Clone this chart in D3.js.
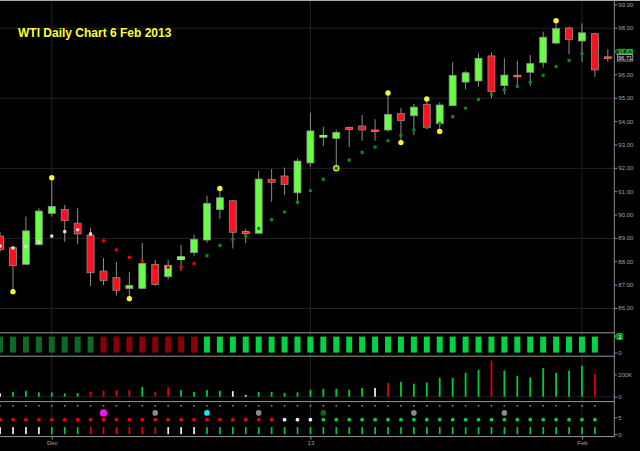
<!DOCTYPE html>
<html><head><meta charset="utf-8">
<script src="https://cdn.jsdelivr.net/npm/d3@7"></script>
<style>
html,body{margin:0;padding:0;background:#000;}
svg{display:block;}
text{font-family:"Liberation Sans",Arial,sans-serif;}
</style></head>
<body>
<svg id="c" width="640" height="451"></svg>
<script>
// ---------- DATA ----------
const title = "WTI Daily Chart 6 Feb 2013";
const opens  = [89.08,88.58,87.87,88.71,90.05,90.22,89.63,89.12,87.58,87.30,86.83,86.84,87.87,87.34,88.08,88.37,88.91,90.21,90.59,89.27,89.20,91.51,91.65,90.93,92.21,93.32,93.26,93.72,93.79,93.62,93.62,94.32,94.23,94.72,93.89,94.66,95.67,95.72,96.79,95.52,95.96,96.09,96.50,97.34,97.99,97.43,97.74,96.75];
const highs  = [89.25,88.62,89.91,90.27,91.58,90.41,90.27,89.44,88.14,87.97,87.54,88.78,88.05,88.05,88.70,89.14,90.81,91.12,90.62,89.38,91.86,91.95,92.01,92.41,94.36,93.76,93.62,93.76,94.26,94.08,95.20,94.55,94.74,94.95,94.80,96.52,96.14,96.90,96.95,96.69,96.59,96.83,97.83,98.30,98.04,98.19,97.78,97.07];
const lows   = [88.40,86.72,87.85,88.68,89.91,88.84,88.73,86.94,86.98,86.53,86.40,86.80,86.95,87.23,87.58,88.23,88.79,89.81,88.55,88.78,89.18,90.55,90.84,90.48,92.05,92.93,91.98,92.88,93.16,93.16,93.55,93.08,93.40,93.70,93.56,94.64,95.36,95.47,94.98,95.15,95.53,95.50,96.29,97.30,96.86,96.53,95.90,96.54];
const closes = [88.50,87.81,89.30,90.15,90.35,89.74,89.17,87.51,87.18,86.76,86.97,87.91,87.01,87.83,88.19,88.94,90.48,90.72,89.24,89.18,91.52,91.38,91.29,92.29,93.58,93.38,93.52,93.65,93.62,93.56,94.29,94.02,94.60,93.73,94.69,95.96,96.07,96.69,95.26,95.97,95.90,96.46,97.59,97.96,97.50,97.78,96.19,96.71];
// stop-and-reverse dots
const sarValues = [88.65,88.57,88.64,88.82,89.08,89.27,89.35,89.17,88.87,88.49,88.17,88.01,87.74,87.74,87.75,87.90,88.24,88.68,88.94,89.08,89.41,89.78,90.11,90.52,91.02,91.51,91.98,92.33,92.66,92.89,93.16,93.39,93.62,93.73,93.91,94.19,94.55,94.93,95.15,95.34,95.49,95.67,95.96,96.33,96.60,96.89,96.93];
const sarStates = ["w","w","w","w","w","w","w","w","r","r","r","r","r","r","r","r","g","g","g","g","g","g","g","g","g","g","g","g","g","g","g","g","g","g","g","g","g","g","g","g","g","g","g","g","g","g","g"];
// fractal markers (yellow)
const fractalIdx    = [1,4,10,17,30,31,33,34,43];
const fractalPrices = [86.70,91.58,86.40,91.12,95.20,93.08,94.95,93.56,98.30];
const ringIdx = [26];
const ringPrices = [91.98];
// trend indicator bars (value 1)
const trendStates = ["dg","dg","dg","dg","dg","dg","dg","dg","dr","dr","dr","dr","dr","dr","dr","dr","g","g","g","g","g","g","g","g","g","g","g","g","g","g","g","g","g","g","g","g","g","g","g","g","g","g","g","g","g","g","g"];
// volume in thousands
const volumes = [30,44,53,39,39,30,33,44,53,59,59,86,42,83,59,42,59,53,50,15,42,44,33,39,62,71,71,62,77,77,124,133,116,127,169,169,213,240,323,234,187,172,255,213,234,276,201];
const volStates = ["w","g","g","g","g","g","g","r","r","r","r","g","r","r","g","g","g","g","w","w","g","g","g","g","g","g","g","g","g","w","r","g","g","g","g","g","g","g","r","g","g","g","g","g","g","g","r"];
// lower panel signals
const signalIdx    = [8,12,16,20,25,32,39];
const signalStates = ["m","s","c","s","d","s","s"];
const dotStates = ["r","r","r","r","r","r","r","r","r","r","r","r","r","r","r","r","r","r","r","r","r","r","w","w","w","g","g","g","g","g","g","g","g","g","g","g","g","g","g","g","g","g","g","g","g","g","g"];
const barStates = ["w","w","w","w","g","g","g","r","r","r","r","r","r","w","w","w","g","g","g","g","g","g","g","g","g","g","g","g","g","g","g","g","g","g","g","g","g","g","g","g","g","g","g","g","g","g","g"];
// axes
const priceTicks = [86,87,88,89,90,91,92,93,94,95,96,97,98,99];
const priceGrid = [86,89,92,95,98];
const dateIdx = [4,24,45];
const dateLabels = ["Dec","13","Feb"];
const volTicks = [0,200];
const trendTicks = [0];
const dotTicks = [0,5];
const lastPrice = 96.71;
const lastTag = "96.71";
const askTag = "96.82";

// ---------- SCALES ----------
const svg = d3.select("#c");
const W = 640, H = 451;
const axisX = 614.3;
const x = d3.scaleLinear().domain([0,46]).range([0.05,594.9]);
const y = d3.scaleLinear().domain([86,99]).range([308,4.3]);
const yi = d3.scaleLinear().domain([0,1]).range([352.6,336.6]);
const yv = d3.scaleLinear().domain([0,200]).range([396.7,374.3]);
const yd = d3.scaleLinear().domain([0,5]).range([434.2,417.3]);
const panelLines = [332.8,356.2,401.6,436.6];

svg.append("rect").attr("width",W).attr("height",H).attr("fill","#000");

// gridlines
const grid = svg.append("g");
grid.selectAll(".hg").data(priceGrid).join("line")
  .attr("x1",0).attr("x2",axisX).attr("y1",d=>y(d)+0.5).attr("y2",d=>y(d)+0.5)
  .attr("stroke","#222").attr("stroke-width",1);
grid.selectAll(".vg").data(dateIdx).join("line")
  .attr("x1",d=>x(d)).attr("x2",d=>x(d)).attr("y1",0).attr("y2",436)
  .attr("stroke","#222").attr("stroke-width",1);
grid.append("line").attr("x1",0).attr("x2",axisX).attr("y1",yv(0)).attr("y2",yv(0)).attr("stroke","#1e1e1e");

// top border and panel separators
svg.append("line").attr("x1",0).attr("x2",W).attr("y1",0.5).attr("y2",0.5).attr("stroke","#aaa");
svg.selectAll(".pl").data(panelLines).join("line")
  .attr("x1",0).attr("x2",axisX).attr("y1",d=>d).attr("y2",d=>d)
  .attr("stroke","#999").attr("stroke-width",1);

// ---------- CANDLES ----------
const idx = d3.range(opens.length);
const cg = svg.append("g");
cg.selectAll(".wick").data(idx).join("line")
  .attr("x1",i=>x(i)).attr("x2",i=>x(i))
  .attr("y1",i=>y(highs[i])).attr("y2",i=>y(lows[i]))
  .attr("stroke","#8c8c8c").attr("stroke-width",1);
cg.selectAll(".body").data(idx).join("rect")
  .attr("x",i=>x(i)-3.5).attr("width",7)
  .attr("y",i=>Math.min(y(opens[i]),y(closes[i])))
  .attr("height",i=>Math.max(1.5,Math.abs(y(opens[i])-y(closes[i]))))
  .attr("fill",i=>closes[i]>=opens[i]?"#66ff44":"#ff1020")
  .attr("stroke",i=>Math.abs(y(opens[i])-y(closes[i]))<3?(closes[i]>=opens[i]?"#b8ff9c":"#ff8080"):"#8c8c8c")
  .attr("stroke-width",0.8);

// SAR dots
const sarCol = {w:"#e0e0e0", r:"#ee0000", g:"#0a8a1e"};
cg.selectAll(".sar").data(sarValues).join("rect")
  .attr("x",(d,i)=>x(i)-1.6).attr("y",d=>y(d)-1.6).attr("width",3.2).attr("height",3.2).attr("rx",0.8)
  .attr("fill",(d,i)=>sarCol[sarStates[i]]);

// ring markers
cg.selectAll(".ring").data(ringIdx).join("circle")
  .attr("cx",d=>x(d)).attr("cy",(d,k)=>y(ringPrices[k])).attr("r",2.6)
  .attr("fill","none").attr("stroke","#f0f030").attr("stroke-width",1.3);
// fractal markers
cg.selectAll(".fr").data(fractalIdx).join("circle")
  .attr("cx",d=>x(d)).attr("cy",(d,k)=>y(fractalPrices[k])).attr("r",2.7)
  .attr("fill","#f5f53a");

// ---------- TREND BARS ----------
const trCol = {dg:"#0b6a24", dr:"#8a0008", g:"#00d444"};
svg.append("g").selectAll("rect").data(trendStates).join("rect")
  .attr("x",(d,i)=>x(i)-3).attr("width",6)
  .attr("y",yi(1)).attr("height",yi(0)-yi(1))
  .attr("fill",d=>trCol[d]);

// ---------- VOLUME ----------
const vCol = {g:"#00cc33", r:"#e00000", w:"#e8e8e8"};
svg.append("g").selectAll("rect").data(volumes).join("rect")
  .attr("x",(d,i)=>x(i)-0.9).attr("width",1.8)
  .attr("y",d=>yv(d)).attr("height",d=>yv(0)-yv(d))
  .attr("fill",(d,i)=>vCol[volStates[i]]);

// ---------- SIGNAL PANEL ----------
const sp = svg.append("g");
sp.selectAll(".sq").data(idx.slice(0,47)).join("rect")
  .attr("x",i=>x(i)-0.8).attr("y",yd(8.4)-0.8).attr("width",1.6).attr("height",1.6).attr("fill","#888");
const sgCol = {m:"#ff10ff", s:"#8a8a8a", c:"#00f0ff", d:"#0b6a24"};
sp.selectAll(".sg").data(signalIdx).join("circle")
  .attr("cx",d=>x(d)).attr("cy",yd(6.3)).attr("r",(d,k)=>signalStates[k]==="m"?3.6:2.8)
  .attr("fill",(d,k)=>sgCol[signalStates[k]]);
const dCol = {r:"#ee0000", w:"#f0f0f0", g:"#00d43c"};
sp.selectAll(".dt").data(dotStates).join("circle")
  .attr("cx",(d,i)=>x(i)).attr("cy",yd(4.3)).attr("r",1.9)
  .attr("fill",d=>dCol[d]);
const bCol = {r:"#ee0000", w:"#f0f0f0", g:"#00c83a"};
sp.selectAll(".bt").data(barStates).join("rect")
  .attr("x",(d,i)=>x(i)-0.8).attr("width",1.7)
  .attr("y",yd(2.1)).attr("height",yd(0)-yd(2.1))
  .attr("fill",d=>bCol[d]);

// ---------- AXES ----------
svg.append("line").attr("x1",axisX).attr("x2",axisX).attr("y1",0).attr("y2",437).attr("stroke","#8a8a8a");

function styleAxis(g){
  g.select(".domain").remove();
  g.selectAll("line").attr("stroke","#8a8a8a");
  g.selectAll("text").attr("fill","#a0a0a0").style("font-size","6px");
}
svg.append("g").attr("transform",`translate(${axisX},0)`)
  .call(d3.axisRight(y).tickValues(priceTicks).tickFormat(d3.format(".2f")).tickSize(3).tickPadding(1))
  .call(styleAxis);
svg.append("g").attr("transform",`translate(${axisX},0)`)
  .call(d3.axisRight(yv).tickValues(volTicks).tickFormat(d=>d?d+"K":"0").tickSize(3).tickPadding(1))
  .call(styleAxis);
svg.append("g").attr("transform",`translate(${axisX},0)`)
  .call(d3.axisRight(yi).tickValues(trendTicks).tickFormat(d=>String(d)).tickSize(3).tickPadding(1))
  .call(styleAxis);
svg.append("g").attr("transform",`translate(${axisX},0)`)
  .call(d3.axisRight(yd).tickValues(dotTicks).tickFormat(d=>String(d)).tickSize(3).tickPadding(1))
  .call(styleAxis);
svg.append("g").attr("transform",`translate(0,${panelLines[3]})`)
  .call(d3.axisBottom(x).tickValues(dateIdx).tickFormat((d,k)=>dateLabels[k]).tickSize(3).tickPadding(1))
  .call(styleAxis);

// trend "1" tag
const ty = yi(1);
svg.append("path")
  .attr("d",`M${axisX},${ty} L${axisX+3},${ty-3} L${axisX+8},${ty-3} L${axisX+8},${ty+3} L${axisX+3},${ty+3} Z`)
  .attr("fill","#0b8a2a").attr("stroke","#00d444").attr("stroke-width",0.8);
svg.append("text").attr("x",axisX+4).attr("y",ty+2).attr("fill","#e0ffe0").style("font-size","6px").text("1");

// last price tags
const ay = y(lastPrice)-6;
svg.append("path")
  .attr("d",`M${axisX},${ay} L${axisX+3},${ay-2.5} L${axisX+18},${ay-2.5} L${axisX+18},${ay+2.5} L${axisX+3},${ay+2.5} Z`)
  .attr("fill","#063a10").attr("stroke","#1fd040").attr("stroke-width",0.8);
svg.append("text").attr("x",axisX+4).attr("y",ay+2).attr("fill","#3cf060").style("font-size","5.5px").text(askTag);
const ly = y(lastPrice);
svg.append("rect").attr("x",axisX+3).attr("y",ly-3.2).attr("width",15.5).attr("height",6.4)
  .attr("fill","#080808").attr("stroke","#c8c8c8").attr("stroke-width",0.7);
svg.append("text").attr("x",axisX+4).attr("y",ly+2).attr("fill","#e8e8e8").style("font-size","5.5px").text(lastTag);

// title
svg.append("text").attr("x",18).attr("y",37.2)
  .attr("fill","#ffff30").style("font-size","12px").style("font-weight","bold")
  .text(title);
</script>
</body></html>
